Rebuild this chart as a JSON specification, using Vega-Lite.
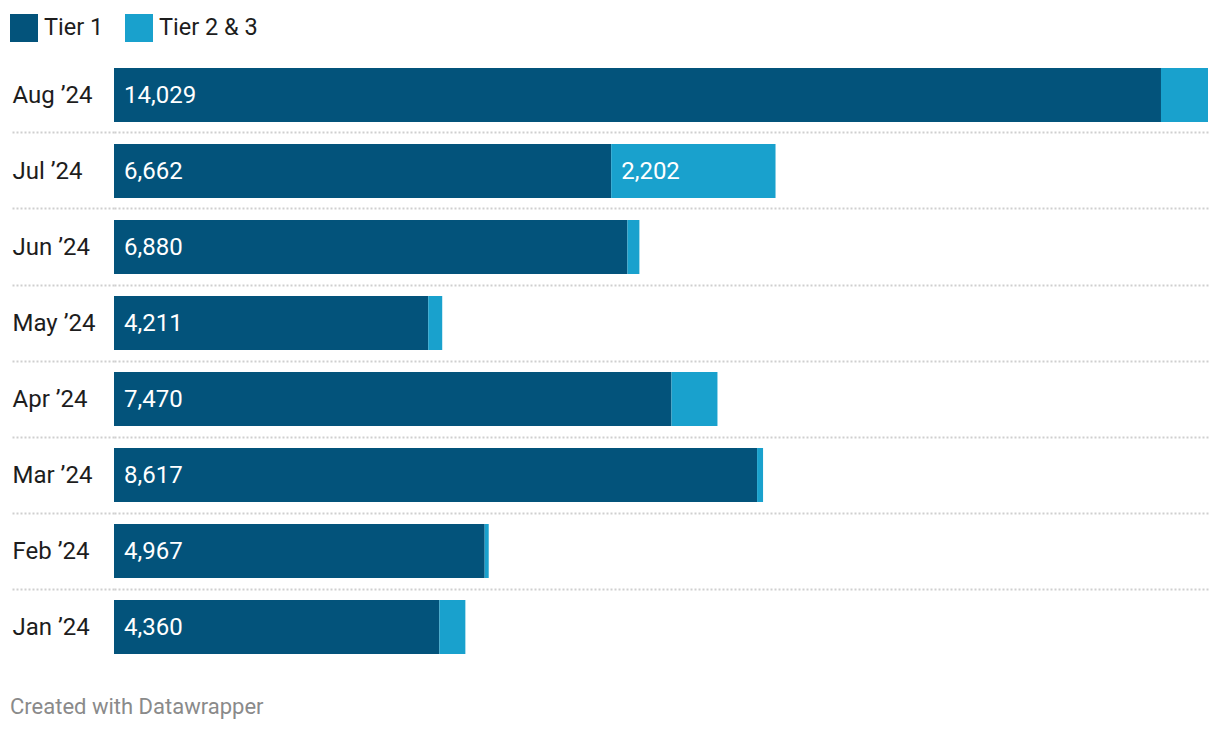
{
  "$schema": "https://vega.github.io/schema/vega-lite/v6.json",
  "autosize": {"type": "none"},
  "width": 1094,
  "height": 608,
  "padding": {"left": 114, "top": 57, "right": 12, "bottom": 67},
  "background": "white",
  "config": {
    "font": "Roboto",
    "view": {"stroke": null},
    "axis": {"domain": false}
  },
  "title": {
    "text": "Created with Datawrapper",
    "orient": "bottom",
    "anchor": "start",
    "frame": "group",
    "baseline": "alphabetic",
    "offset": 49,
    "dx": -104,
    "font": "Roboto",
    "fontSize": 22,
    "fontWeight": "normal",
    "color": "#8a8a8a"
  },
  "data": {
    "values": [
      {"month": "Aug ’24", "tier": "Tier 1", "value": 14029},
      {"month": "Aug ’24", "tier": "Tier 2 & 3", "value": 630},
      {"month": "Jul ’24", "tier": "Tier 1", "value": 6662},
      {"month": "Jul ’24", "tier": "Tier 2 & 3", "value": 2202},
      {"month": "Jun ’24", "tier": "Tier 1", "value": 6880},
      {"month": "Jun ’24", "tier": "Tier 2 & 3", "value": 160},
      {"month": "May ’24", "tier": "Tier 1", "value": 4211},
      {"month": "May ’24", "tier": "Tier 2 & 3", "value": 187},
      {"month": "Apr ’24", "tier": "Tier 1", "value": 7470},
      {"month": "Apr ’24", "tier": "Tier 2 & 3", "value": 616},
      {"month": "Mar ’24", "tier": "Tier 1", "value": 8617},
      {"month": "Mar ’24", "tier": "Tier 2 & 3", "value": 80},
      {"month": "Feb ’24", "tier": "Tier 1", "value": 4967},
      {"month": "Feb ’24", "tier": "Tier 2 & 3", "value": 54},
      {"month": "Jan ’24", "tier": "Tier 1", "value": 4360},
      {"month": "Jan ’24", "tier": "Tier 2 & 3", "value": 348}
    ]
  },
  "transform": [
    {"stack": "value", "groupby": ["month"], "sort": [{"field": "tier", "order": "ascending"}], "as": ["x0", "x1"]}
  ],
  "encoding": {
    "y": {
      "field": "month",
      "type": "nominal",
      "sort": ["Aug ’24", "Jul ’24", "Jun ’24", "May ’24", "Apr ’24", "Mar ’24", "Feb ’24", "Jan ’24"],
      "scale": {"paddingInner": 0.2895, "paddingOuter": 0.1447},
      "axis": {
        "title": null,
        "bandPosition": -0.2037,
        "labelOffset": 1,
        "labelAlign": "left",
        "labelBaseline": "middle",
        "labelPadding": 0,
        "labelFont": "Roboto",
        "labelFontSize": 24,
        "labelColor": "#1d1d1d",
        "ticks": true,
        "tickSize": 102,
        "tickWidth": 2,
        "tickDash": [2, 2],
        "tickColor": {"condition": {"test": "datum.value === 'Aug ’24'", "value": "transparent"}, "value": "#cfcfcf"},
        "grid": true,
        "gridWidth": 2,
        "gridDash": [2, 2],
        "gridColor": {"condition": {"test": "datum.value === 'Aug ’24'", "value": "transparent"}, "value": "#cfcfcf"}
      }
    }
  },
  "layer": [
    {
      "mark": {"type": "bar"},
      "encoding": {
        "x": {
          "field": "x0",
          "type": "quantitative",
          "scale": {"domain": [0, 14659], "nice": false, "zero": true},
          "axis": null
        },
        "x2": {"field": "x1"},
        "color": {
          "field": "tier",
          "type": "nominal",
          "scale": {"domain": ["Tier 1", "Tier 2 & 3"], "range": ["#03537b", "#19a1cd"]},
          "legend": {
            "title": null,
            "orient": "none",
            "legendX": -104,
            "legendY": -43,
            "direction": "horizontal",
            "symbolType": "square",
            "symbolSize": 784,
            "symbolStrokeWidth": 0,
            "symbolOpacity": 1,
            "labelFont": "Roboto",
            "labelFontSize": 23.5,
            "labelColor": "#1d1d1d",
            "labelOffset": 6,
            "columnPadding": 21,
            "padding": 0
          }
        }
      }
    },
    {
      "transform": [{"filter": "datum.value > 1000"}],
      "mark": {"type": "text", "align": "left", "baseline": "middle", "dx": 10, "dy": 1, "font": "Roboto", "fontSize": 24, "color": "white"},
      "encoding": {
        "x": {"field": "x0", "type": "quantitative"},
        "text": {"field": "value", "type": "quantitative", "format": ","}
      }
    }
  ]
}
